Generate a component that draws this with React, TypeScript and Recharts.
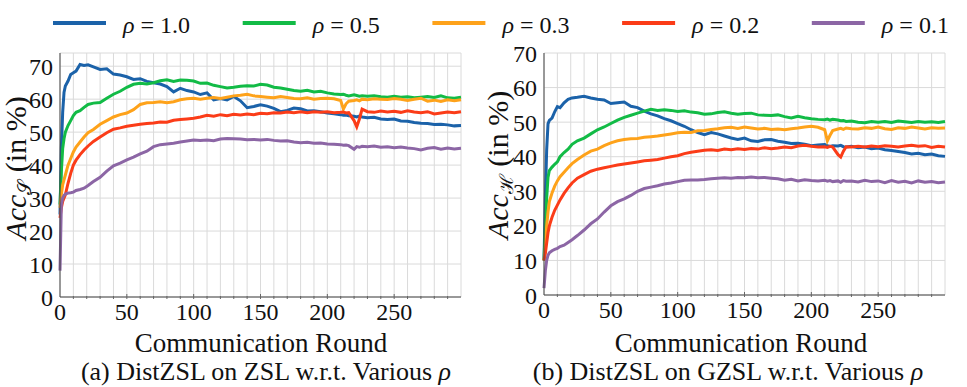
import React from 'react';
import { LineChart, Line, XAxis, YAxis, CartesianGrid } from 'recharts';

// communication rounds sampled from the curves
const rounds = [
  0, 1, 2, 3, 4, 6, 8, 10, 12, 15, 18, 21,
  25, 30, 35, 40, 45, 50, 55, 60, 65, 70, 75, 80, 85, 90, 95, 100, 105, 110, 115, 120, 125, 130, 135, 140, 145,
  150, 155, 160, 165, 170, 175, 180, 185, 190, 195, 200, 205,
  210, 212, 214, 216, 220, 222, 224, 226,
  230, 235, 240, 245, 250, 255, 260, 265, 270, 275, 280, 285, 290, 295, 300,
];

const rhoLabels = ['1.0', '0.5', '0.3', '0.2', '0.1'];
const colors = ['#1b62a9', '#12bb46', '#fea21a', '#fb3c18', '#8c66a5'];

// (a) ZSL
const zslRho10 = [
  25, 45, 56, 62, 64, 65.5, 67.5, 68, 68.5, 70.5, 70.2, 70.4,
  69.8, 69, 69.2, 67.6, 67.3, 66.8, 66, 66.2, 65.4, 65, 64.6, 63.8, 62.2, 63.3, 62.6, 62.2, 61.4, 61.9, 59.8, 60.2, 59.8, 60.8, 59.5, 57.4, 57.8,
  58.3, 57.9, 57.2, 56.2, 56.6, 57.3, 57.1, 56.4, 56.5, 56.2, 55.8, 55.6,
  55.3, 55.1, 55.2, 55.0, 54.8, 54.6, 54.9, 54.6,
  54.4, 54.5, 54.0, 53.8, 54.0, 53.4, 53.3, 52.9, 52.7, 52.6, 52.3, 52.4, 52.2, 51.9, 52.0,
];
const zslRho05 = [
  28, 38, 45, 48, 50, 52, 53.5, 55, 56, 56.5, 57.5, 58.4,
  58.8, 59, 60.3, 61.5, 62.4, 63.6, 64.5, 64.8, 64.6, 65, 65.6, 65.9, 65.4, 65.8, 65.7, 65.5, 64.8, 64.9, 64.2, 63.8, 63.4, 63.6, 63.9, 64.1, 64.0,
  64.5, 64.3, 63.6, 63.4, 63.0, 62.6, 62.4, 62.7, 62.2, 62.4, 61.9, 61.6,
  61.4, 61.5, 61.2, 61.0, 61.3, 61.1, 60.9, 61.0,
  60.9, 61.0, 60.7, 60.6, 60.9, 60.6, 60.7, 60.4, 60.6, 60.8, 60.5, 61.0, 60.4, 60.3, 60.6,
];
const zslRho03 = [
  27, 31, 34, 35.5, 37, 40, 42, 44, 45.5, 47, 48.5, 49.8,
  50.8, 52.4, 53.5, 54.6, 55.3, 55.8, 56.8, 58.4, 58.9, 59.0, 59.2, 58.9, 59.2, 59.8, 60.1, 60.3, 60.0, 60.3, 60.5, 60.2, 60.6, 61.0, 61.2, 61.5, 61.0,
  60.8, 60.6, 60.4, 60.8, 60.5, 60.2, 60.1, 60.4, 60.0, 60.2, 60.3, 60.1,
  59.6, 57.0, 58.6, 59.4, 59.6, 59.8, 59.5, 60.0,
  59.8, 60.1, 60.0, 59.9, 60.2, 60.0, 59.6, 60.0, 60.3, 59.4, 59.7, 59.3, 59.8, 59.5, 59.8,
];
const zslRho02 = [
  24, 27, 29, 30, 31, 34.5, 37.5, 40, 41.5, 43.2, 44.6, 45.8,
  47.2, 48.5, 49.8, 50.9, 51.3, 51.8, 52.1, 52.4, 52.6, 52.8, 53.1, 53.0, 53.6, 53.8, 54.0, 54.2, 54.6, 55.1, 54.8, 55.3, 55.0, 55.4, 55.2, 55.5, 55.3,
  55.7, 55.6, 55.9, 55.8, 56.1, 55.9, 56.2, 55.9, 56.2, 56.0, 56.2, 55.9,
  56.0, 56.1, 55.8, 55.9, 53.5, 51.6, 54.0, 57.0,
  56.2, 56.0, 56.4, 56.1, 56.3, 56.0, 56.5, 56.1, 55.9, 56.2, 55.5, 55.8, 56.1, 55.9, 56.2,
];
const zslRho01 = [
  8, 28, 30, 30.8, 31.2, 31.5, 31.6, 31.8, 32.3, 32.6, 33.0, 33.8,
  35, 36.3, 38.2, 39.8, 40.6, 41.6, 42.4, 43.4, 44.2, 45.6, 46.2, 46.4, 46.6, 47.0, 47.3, 47.6, 47.5, 47.6, 47.4, 47.9, 48.1, 48.0, 47.9, 47.7, 47.8,
  47.6, 47.8, 47.5, 47.3, 47.4, 47.0, 46.8, 46.9, 46.6, 46.7, 46.4, 46.3,
  46.2, 46.0, 46.1, 45.9, 44.8, 45.6, 45.4, 45.7,
  45.6, 45.8, 45.4, 45.6, 45.3, 45.5, 45.2, 45.0, 44.6, 45.1, 45.3, 44.8, 45.2, 44.9, 45.1,
];

// (b) GZSL
const gzslRho10 = [
  10, 28, 42, 49.5, 50.5, 51.2, 53, 54.5, 54.2, 55.6, 56.6, 57.0,
  57.2, 57.5, 57.0, 56.6, 56.4, 55.4, 55.6, 55.8, 54.6, 54.2, 53.2, 52.4, 51.8, 51.0, 50.4, 49.6, 48.8, 47.8, 47.0, 46.4, 47.0, 46.6, 46.0, 45.4, 45.0,
  45.4, 44.6, 44.4, 44.9, 45.0, 44.5, 44.2, 43.8, 43.9, 43.6, 43.2, 43.4,
  43.5, 43.2, 43.0, 43.2, 43.1, 43.3, 42.9, 42.8,
  43.0, 42.6, 42.8, 42.3, 42.5, 42.0, 41.8, 41.5, 41.2, 40.8, 41.0, 40.6, 40.8, 40.3, 40.1,
];
const gzslRho05 = [
  10, 20, 28, 34, 36, 37, 37.8, 38.5, 40, 41.2, 42.2, 43.6,
  44.6, 45.4, 46.6, 47.8, 48.6, 49.6, 50.6, 51.4, 52.0, 52.6, 53.2, 53.7, 53.4, 53.6, 53.4, 53.1, 53.3, 52.9, 52.7, 52.3, 52.4, 52.8, 53.0, 52.6, 52.3,
  52.5, 52.6, 52.1, 52.0, 51.9, 52.1, 51.6, 51.2, 51.7, 51.3, 51.0, 50.8,
  50.7, 50.9, 50.6, 50.8, 50.6, 50.4, 50.5, 50.2,
  50.3, 50.0, 49.8, 50.2, 50.0, 50.2, 49.9, 50.3, 50.1, 49.9, 50.2, 50.0, 50.1, 49.9, 50.2,
];
const gzslRho03 = [
  10, 14, 20, 24, 27, 29.5, 31.5, 33, 34.2, 35.5, 36.8, 38,
  39.2, 40.5, 41.6, 42.2, 43.2, 44.0, 44.6, 45.0, 45.2, 45.3, 45.6, 45.8, 46.0, 46.3, 46.6, 46.9, 47.1, 47.0, 47.5, 47.6, 47.9, 48.1, 48.4, 48.5, 48.2,
  48.6, 48.3, 48.0, 48.2, 47.9, 48.0, 47.8, 48.1, 48.3, 48.6, 48.8, 48.5,
  47.8, 44.6, 46.2, 47.6, 48.0, 48.2, 47.9, 48.3,
  48.1, 48.0, 48.4, 48.2, 48.6, 48.1, 47.9, 48.4, 48.2, 48.6, 48.3, 48.0, 48.4, 48.2, 48.3,
];
const gzslRho02 = [
  10, 12, 15, 18, 20, 22.5, 24.5, 26, 27.5, 29.4, 31, 32.4,
  33.8, 34.8, 35.8, 36.4, 36.8, 37.2, 37.6, 37.9, 38.2, 38.5, 38.8, 39.0, 39.2, 39.6, 40.0, 40.3, 40.9, 41.3, 41.6, 41.9, 42.0, 41.8, 42.2, 42.0, 42.3,
  42.1, 42.4, 42.2, 42.6, 42.3, 42.5, 42.8, 42.6, 43.1, 43.3, 43.0, 42.8,
  42.9, 42.7, 43.0, 42.8, 40.6, 39.9, 41.6, 42.9,
  42.8, 43.0, 42.8, 43.1, 42.9, 43.2, 43.0, 42.8, 43.1, 43.3, 43.0, 43.2, 42.7, 43.0, 42.8,
];
const gzslRho01 = [
  2, 7, 10, 11.5, 12.2, 12.8, 13.2, 13.5, 14, 14.4, 15.2, 16.0,
  17.2, 18.8, 20.6, 22.0, 24.0, 25.8, 27.0, 27.8, 28.8, 30.0, 30.8, 31.2, 31.6, 32.1, 32.4, 32.8, 33.2, 33.3, 33.3, 33.4, 33.6, 33.8, 33.9, 33.8, 34.0,
  33.9, 34.1, 33.9, 34.0, 33.8, 33.6, 33.2, 33.5, 33.0, 33.3, 33.1, 33.0,
  33.2, 32.9, 33.1, 32.8, 33.0, 32.6, 33.1, 32.9,
  33.0, 32.7, 33.2, 32.8, 33.0, 32.5, 33.1, 32.6, 32.9, 32.4, 33.0, 32.6, 32.8, 32.5, 32.7,
];

const zslSeries = [zslRho10, zslRho05, zslRho03, zslRho02, zslRho01];
const gzslSeries = [gzslRho10, gzslRho05, gzslRho03, gzslRho02, gzslRho01];

const xTicks = Array.from({ length: 31 }, (_, i) => i * 10);
const yTicks = [0, 10, 20, 30, 40, 50, 60, 70];

const FONT = '"Liberation Serif", "Times New Roman", serif';

const buildRows = (series: number[][]) =>
  rounds.map((r, i) => {
    const row: Record<string, number> = { r };
    series.forEach((s, k) => (row['s' + k] = s[i]));
    return row;
  });

const XTick = (props: any) => {
  const { x, y, payload } = props;
  const v = payload.value;
  const major = v % 50 === 0;
  return (
    <g>
      {v > 0 && v < 300 && <line x1={x} x2={x} y1={y} y2={y - (major ? 5 : 3)} stroke="#666" />}
      {major && v < 300 && (
        <text x={x} y={y + 21} textAnchor="middle" fontSize={24} fontFamily={FONT} fill="#111">
          {v}
        </text>
      )}
    </g>
  );
};

const Panel = ({ series, yMax, xAxisH }: { series: number[][]; yMax: number; xAxisH: number }) => (
  <LineChart width={480} height={387} data={buildRows(series)} margin={{ top: 53, right: 19, bottom: 0, left: 0 }}>
    <CartesianGrid stroke="#dadada" strokeWidth={1} />
    <XAxis
      dataKey="r"
      type="number"
      domain={[0, 300]}
      ticks={xTicks}
      interval={0}
      tick={<XTick />}
      tickSize={0}
      tickLine={false}
      height={xAxisH}
      axisLine={{ stroke: '#444' }}
    />
    <XAxis xAxisId="top" orientation="top" type="number" domain={[0, 300]} height={0} tick={false} tickLine={false} axisLine={{ stroke: '#444' }} />
    <YAxis
      type="number"
      domain={[0, yMax]}
      ticks={yTicks}
      interval={0}
      width={60}
      tickSize={0}
      tickMargin={7}
      tickLine={false}
      axisLine={{ stroke: '#444' }}
      tick={{ fontSize: 24, fill: '#111', fontFamily: FONT }}
    />
    <YAxis yAxisId="right" orientation="right" type="number" domain={[0, yMax]} width={0} tick={false} tickLine={false} axisLine={{ stroke: '#444' }} />
    {series.map((_, k) => (
      <Line key={k} dataKey={'s' + k} stroke={colors[k]} strokeWidth={3} dot={false} type="linear" isAnimationActive={false} />
    ))}
  </LineChart>
);

export default function App() {
  return (
    <div style={{ position: 'absolute', left: 0, top: 0, width: 967, height: 387, background: '#fff', overflow: 'hidden' }}>
      <div style={{ position: 'absolute', left: 0, top: 0 }}>
        <Panel series={zslSeries} yMax={74} xAxisH={90} />
      </div>
      <div style={{ position: 'absolute', left: 484, top: 0 }}>
        <Panel series={gzslSeries} yMax={70} xAxisH={92} />
      </div>
      <svg width={967} height={387} style={{ position: 'absolute', left: 0, top: 0, pointerEvents: 'none' }} fontFamily={FONT}>
        {rhoLabels.map((lab, k) => {
          const x0 = 53 + k * 189.7;
          return (
            <g key={lab}>
              <line x1={x0} x2={x0 + 53} y1={23} y2={23} stroke={colors[k]} strokeWidth={4} />
              <text x={x0 + 70} y={33} fontSize={24} fill="#111">
                <tspan fontStyle="italic">ρ</tspan> = {lab}
              </text>
            </g>
          );
        })}
        <text x={26} y={168} transform="rotate(-90 26 168)" textAnchor="middle" fontSize={30} fill="#111">
          <tspan fontStyle="italic">Acc</tspan>
          <tspan fontSize={19} dy={5}>𝒮</tspan>
          <tspan dy={-5}> (in %)</tspan>
        </text>
        <text x={508} y={165} transform="rotate(-90 508 165)" textAnchor="middle" fontSize={30} fill="#111">
          <tspan fontStyle="italic">Acc</tspan>
          <tspan fontSize={19} dy={5}>ℋ</tspan>
          <tspan dy={-5}> (in %)</tspan>
        </text>
        <text x={261} y={352} textAnchor="middle" fontSize={27} fill="#111">Communication Round</text>
        <text x={741} y={352} textAnchor="middle" fontSize={27} fill="#111">Communication Round</text>
        <text x={266} y={380} textAnchor="middle" fontSize={26} fill="#111">
          (a) DistZSL on ZSL w.r.t. Various <tspan fontStyle="italic">ρ</tspan>
        </text>
        <text x={728} y={380} textAnchor="middle" fontSize={26} fill="#111">
          (b) DistZSL on GZSL w.r.t. Various <tspan fontStyle="italic">ρ</tspan>
        </text>
      </svg>
    </div>
  );
}
